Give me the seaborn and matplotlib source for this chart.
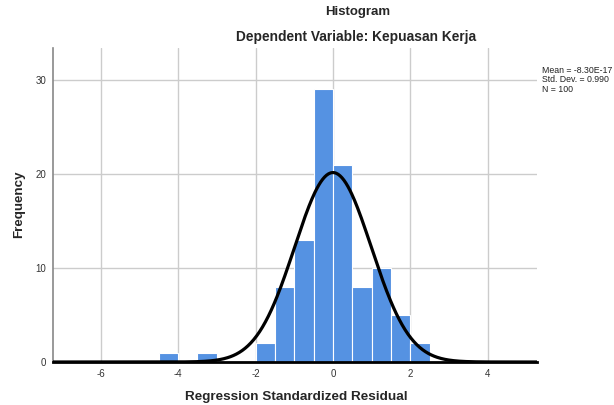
import numpy as np
import pandas as pd
import matplotlib
matplotlib.use("Agg")
import matplotlib.pyplot as plt
import seaborn as sns

# Data
bin_left = [-4.5, -3.5, -2.0, -1.5, -1.0, -0.5, 0.0, 0.5, 1.0, 1.5, 2.0]
counts = [1, 1, 2, 8, 13, 29, 21, 8, 10, 5, 2]
bin_width = 0.5
mean_val = -8.30e-17
std_val = 0.990
n_val = 100
x_ticks = [-6, -4, -2, 0, 2, 4]
y_ticks = [0, 10, 20, 30]

sns.set_theme(style="white")
plt.rcParams['font.family'] = ['Liberation Sans', 'DejaVu Sans']

fig = plt.figure(figsize=(6.14, 4.05), dpi=100)
ax = fig.add_axes([53/614, 1-362/405, (537-53)/614, (362-48)/405])

df = pd.DataFrame({"x": np.array(bin_left) + bin_width/2, "w": counts})
sns.histplot(data=df, x="x", weights="w", binwidth=bin_width, binrange=(-4.5, 2.5), ax=ax,
             color="#5592e2", alpha=1.0, edgecolor="white", linewidth=0.8, zorder=2)

xs = np.linspace(-7.23, 5.27, 500)
ys = n_val * bin_width / (std_val * np.sqrt(2*np.pi)) * np.exp(-0.5*((xs-mean_val)/std_val)**2)
sns.lineplot(x=xs, y=ys, ax=ax, color="black", linewidth=2.3, zorder=3)

ax.set_xlim(-7.23, 5.27)
ax.set_ylim(0, 33.4)
ax.set_xticks(x_ticks)
ax.set_yticks(y_ticks)
ax.set_xticklabels([str(t) for t in x_ticks], fontsize=7, color="#333333")
ax.set_yticklabels([str(t) for t in y_ticks], fontsize=7, color="#333333")
ax.tick_params(axis="both", length=0, pad=5)
ax.grid(True, color="#cccccc", linewidth=1.0, zorder=0)
ax.set_axisbelow(True)
for s in ["top", "right"]:
    ax.spines[s].set_visible(False)
ax.spines["left"].set_color("#888888")
ax.spines["left"].set_linewidth(1.2)
ax.spines["bottom"].set_color("black")
ax.spines["bottom"].set_linewidth(2.0)

ax.set_xlabel("")
ax.set_ylabel("")
fig.text(296/614, 1-397/405, "Regression Standardized Residual", ha="center", va="center",
         fontsize=9.7, fontweight="bold")
fig.text(19/614, 1-204/405, "Frequency", ha="center", va="center", rotation=90,
         fontsize=9.6, fontweight="bold")

fig.text(358/614, 1-12/405, "Histogram", ha="center", va="center", fontsize=9.5, fontweight="bold")
fig.text(356/614, 1-37/405, "Dependent Variable: Kepuasan Kerja", ha="center", va="center",
         fontsize=9.9, fontweight="bold")

legend_txt = "Mean = -8.30E-17\nStd. Dev. = 0.990\nN = 100"
fig.text(542/614, 1-80/405, legend_txt, ha="left", va="center", fontsize=6.3,
         linespacing=1.05, color="#222222")

fig.savefig("out.png", dpi=100)
